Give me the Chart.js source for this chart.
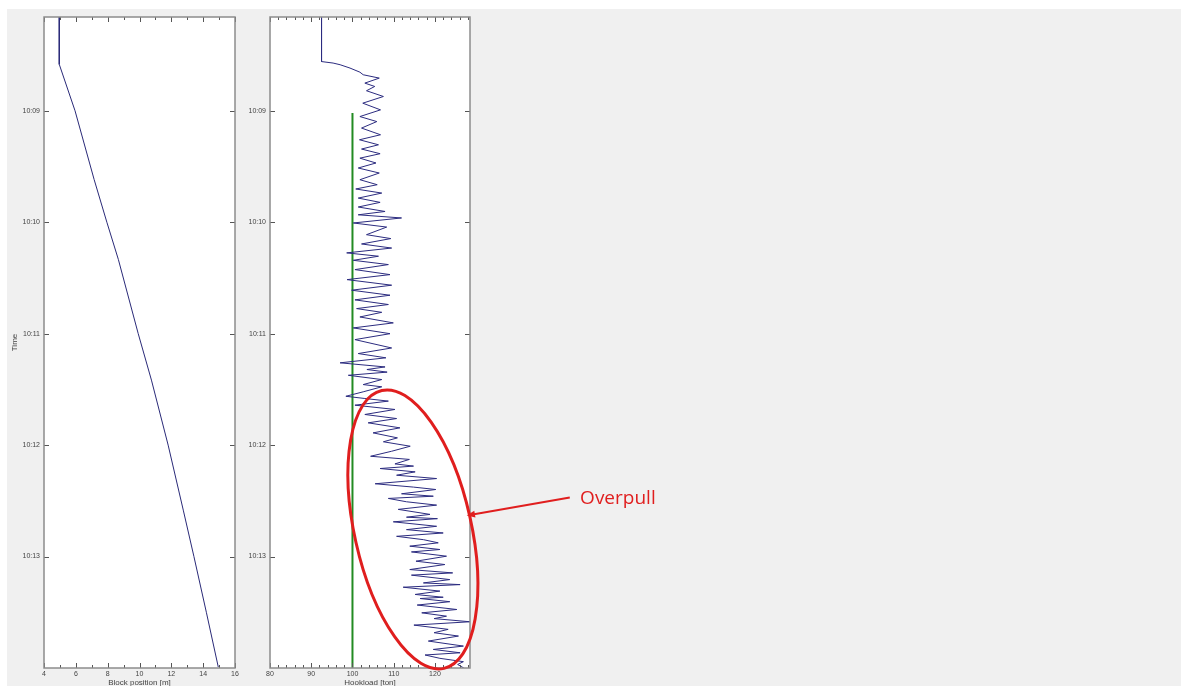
<!DOCTYPE html>
<html>
<head>
<meta charset="utf-8">
<script src="https://cdn.jsdelivr.net/npm/chart.js@4.4.1/dist/chart.umd.min.js"></script>
<style>
  html, body { margin: 0; padding: 0; background: #fff; overflow: hidden; width: 1181px; height: 686px; }
  #figure { position: absolute; left: 7px; top: 9px; width: 1174px; height: 677px; background: #f0f0f0; }
  canvas { position: absolute; top: 0; }
  #blockChart { left: 0; }
  #hookChart { left: 240px; }
</style>
</head>
<body>
<div id="figure"></div>
<canvas id="blockChart" width="250" height="692"></canvas>
<canvas id="hookChart" width="941" height="692"></canvas>
<script>
// time is in seconds after 10:08:00
const timeTicks = [60, 120, 180, 240, 300];
const timeLabels = ['10:09', '10:10', '10:11', '10:12', '10:13'];

const blockTime = [9.5, 35, 60, 97, 120, 140, 180, 205, 240, 275, 300, 330, 359.5];
const blockPos = [4.96, 4.96, 5.95, 7.15, 7.95, 8.67, 9.92, 10.75, 11.8, 12.75, 13.42, 14.2, 14.95];

const hookTime = [
  9.5, 33.5, 34.3, 35.2, 37.0, 39.2, 40.6,
  42.4, 45.1, 46.9, 49.2, 52.3, 55.9, 59.5, 63.1, 65.8, 69.3,
  72.9, 75.6, 78.3, 80.6, 83.1, 85.5, 88.1, 90.8, 93.5, 97.1,
  99.8, 102.1, 104.3, 107.0, 109.3, 111.8, 114.2, 116.0, 117.7, 120.4,
  122.6, 126.7, 128.8, 131.7, 133.9, 136.5, 138.3, 140.5, 142.8, 145.5,
  148.2, 150.9, 153.9, 156.6, 159.3, 161.8, 164.3, 166.5, 168.5, 171.0,
  174.2, 176.9, 180.0, 183.2, 187.7, 190.7, 193.0, 195.7, 197.9, 199.3,
  200.7, 202.4, 204.7, 207.4, 208.6, 211.3, 213.7, 214.9, 216.3, 218.5,
  220.8, 223.5, 225.7, 228.0, 230.7, 233.4, 236.1, 238.2, 240.6, 243.3,
  246.0, 247.7, 250.1, 251.3, 252.6, 254.4, 256.2, 258.0, 260.8, 262.6,
  263.9, 266.2, 267.5, 268.7, 270.5, 272.3, 274.6, 277.3, 278.8, 279.6,
  281.3, 283.7, 285.5, 287.3, 289.1, 290.9, 292.6, 294.4, 296.2, 297.5,
  299.8, 302.5, 304.3, 307.0, 308.8, 310.0, 312.4, 314.2, 315.1, 316.5,
  318.6, 320.4, 321.9, 322.6, 324.3, 326.1, 328.5, 330.3, 332.1, 333.4,
  335.1, 336.9, 339.2, 341.0, 342.8, 345.5, 348.2, 350.0, 351.8, 353.0,
  354.8, 356.6, 358.1, 360.0
];
const hookLoad = [
  92.5, 92.5, 95.3, 97.0, 99.4, 101.8, 102.6,
  106.5, 103.0, 105.4, 103.4, 107.5, 102.5, 106.8, 101.8, 105.9, 102.2,
  106.8, 101.7, 106.3, 102.2, 106.7, 101.8, 105.7, 101.4, 106.5, 101.8,
  106.0, 100.8, 107.1, 101.4, 106.7, 101.4, 107.9, 101.4, 111.9, 100.2,
  108.3, 103.4, 109.3, 102.2, 109.5, 98.6, 106.3, 100.2, 108.7, 100.6,
  109.1, 98.7, 109.5, 99.8, 109.1, 100.6, 108.7, 101.0, 107.1, 101.8,
  109.9, 100.2, 109.1, 100.6, 109.5, 101.4, 108.1, 97.0, 107.9, 103.5,
  108.4, 99.0, 107.1, 102.6, 107.1, 102.6, 98.4, 103.0, 108.7, 100.6,
  110.3, 103.0, 110.7, 103.8, 111.5, 105.0, 110.9, 107.5, 114.0, 109.5,
  104.4, 113.8, 110.3, 114.8, 106.7, 115.2, 110.7, 120.4, 105.5, 114.8,
  120.2, 111.9, 119.6, 108.7, 113.1, 120.4, 111.1, 118.8, 113.1, 120.6,
  109.9, 120.4, 113.1, 122.0, 110.7, 117.2, 120.8, 113.9, 121.2, 114.3,
  122.8, 115.4, 122.4, 113.9, 124.3, 114.3, 123.6, 117.2, 126.1, 112.3,
  121.2, 115.2, 122.0, 116.4, 123.6, 115.7, 125.3, 116.8, 122.8, 119.8,
  128.5, 114.9, 123.2, 119.8, 125.7, 118.4, 126.9, 119.6, 126.1, 117.6,
  121.2, 126.9, 125.5, 127.0
];

const refTime = [61.2, 360];
const refLoad = [100, 100];

Chart.defaults.font.family = '"Liberation Sans", Arial, sans-serif';
Chart.defaults.color = '#444';

const toPoints = (xs, ys) => xs.map((v, i) => ({ x: v, y: ys[i] }));

// white plot area, grey box and inward ticks on all four sides
const matlabBox = {
  id: 'matlabBox',
  beforeDraw(chart) {
    const { ctx, chartArea: a } = chart;
    ctx.save();
    ctx.fillStyle = '#fff';
    ctx.fillRect(a.left, a.top, a.right - a.left, a.bottom - a.top);
    ctx.restore();
  },
  afterDraw(chart, args, opts) {
    const { ctx, chartArea: a, scales: { x, y } } = chart;
    ctx.save();
    ctx.strokeStyle = '#555';
    ctx.lineWidth = 1;
    ctx.beginPath();
    for (let v = x.min; v <= x.max + 1e-9; v += opts.minorStep) {
      const px = Math.round(x.getPixelForValue(v)) + 0.5;
      const len = x.ticks.some(t => Math.abs(t.value - v) < 1e-9) ? 5 : 3;
      ctx.moveTo(px, a.bottom); ctx.lineTo(px, a.bottom - len);
      ctx.moveTo(px, a.top); ctx.lineTo(px, a.top + len);
    }
    y.ticks.forEach(t => {
      const py = Math.round(y.getPixelForValue(t.value)) + 0.5;
      ctx.moveTo(a.left, py); ctx.lineTo(a.left + 5, py);
      ctx.moveTo(a.right, py); ctx.lineTo(a.right - 5, py);
    });
    ctx.stroke();
    ctx.strokeStyle = '#8c8c8c';
    ctx.lineWidth = 1.5;
    ctx.strokeRect(a.left, a.top, a.right - a.left, a.bottom - a.top);
    ctx.restore();
  }
};

// red ellipse, arrow and label, placed in data units
const overpullNote = {
  id: 'overpullNote',
  afterDraw(chart, args, o) {
    const { ctx, scales: { x, y } } = chart;
    const px = p => [x.getPixelForValue(p[0]), y.getPixelForValue(p[1])];
    const [x1, y1] = px(o.ellipseTop);
    const [x2, y2] = px(o.ellipseBottom);
    const r = Math.hypot(x2 - x1, y2 - y1) / 2;
    ctx.save();
    ctx.strokeStyle = o.color;
    ctx.fillStyle = o.color;
    ctx.lineWidth = 3;
    ctx.beginPath();
    ctx.ellipse((x1 + x2) / 2, (y1 + y2) / 2, r, r * o.ratio, Math.atan2(y2 - y1, x2 - x1), 0, Math.PI * 2);
    ctx.stroke();

    const [tx, ty] = px(o.arrowFrom);
    const [hx, hy] = px(o.arrowTo);
    const ang = Math.atan2(hy - ty, hx - tx);
    ctx.lineWidth = 2;
    ctx.beginPath();
    ctx.moveTo(tx, ty);
    ctx.lineTo(hx - 6 * Math.cos(ang), hy - 6 * Math.sin(ang));
    ctx.stroke();
    ctx.beginPath();
    ctx.moveTo(hx, hy);
    ctx.lineTo(hx - 9 * Math.cos(ang - 0.4), hy - 9 * Math.sin(ang - 0.4));
    ctx.lineTo(hx - 9 * Math.cos(ang + 0.4), hy - 9 * Math.sin(ang + 0.4));
    ctx.closePath();
    ctx.fill();

    ctx.font = '19px "Open Sans", sans-serif';
    ctx.textBaseline = 'middle';
    ctx.textAlign = 'left';
    const [lx, ly] = px(o.textAt);
    ctx.fillText(o.text, lx, ly);
    ctx.restore();
  }
};

const timeAxis = (labelPadding, withTitle, width) => ({
  type: 'linear',
  reverse: true,
  min: 9.5,
  max: 360,
  afterBuildTicks: s => { s.ticks = timeTicks.map(v => ({ value: v })); },
  afterFit: s => { s.width = width; },
  ticks: {
    padding: labelPadding,
    font: { size: 7 },
    callback: (v) => timeLabels[timeTicks.indexOf(v)]
  },
  grid: { display: false, drawTicks: false },
  border: { display: false },
  title: { display: withTitle, text: 'Time', font: { size: 8 }, padding: { top: 10, bottom: 0 } }
});

const valueAxis = (min, max, step, title) => ({
  type: 'linear',
  min, max,
  afterFit: s => { s.height = 24; },
  ticks: { stepSize: step, includeBounds: false, padding: 2, font: { size: 7 } },
  grid: { display: false, drawTicks: false },
  border: { display: false },
  title: { display: true, text: title, font: { size: 8 }, padding: { top: 0, bottom: 4 } }
});

const common = {
  responsive: false,
  animation: false,
  events: [],
  plugins: { legend: { display: false }, tooltip: { enabled: false } }
};

new Chart(document.getElementById('blockChart').getContext('2d'), {
  type: 'scatter',
  data: {
    datasets: [{
      data: toPoints(blockPos, blockTime),
      showLine: true,
      borderColor: '#2a2a78',
      borderWidth: 1,
      pointRadius: 0
    }]
  },
  options: {
    ...common,
    layout: { padding: { top: 17, right: 15, left: 0, bottom: 0 } },
    scales: {
      x: valueAxis(4, 16, 2, 'Block position [m]'),
      y: timeAxis(4, true, 44)
    },
    plugins: { ...common.plugins, matlabBox: { minorStep: 1 } }
  },
  plugins: [matlabBox]
});

new Chart(document.getElementById('hookChart').getContext('2d'), {
  type: 'scatter',
  data: {
    datasets: [
      {
        data: toPoints(hookLoad, hookTime),
        showLine: true,
        borderColor: '#2c2c80',
        borderWidth: 1,
        pointRadius: 0
      },
      {
        data: toPoints(refLoad, refTime),
        showLine: true,
        borderColor: '#228b22',
        borderWidth: 2,
        pointRadius: 0
      }
    ]
  },
  options: {
    ...common,
    layout: { padding: { top: 17, right: 711, left: 0, bottom: 0 } },
    scales: {
      x: valueAxis(80, 128.5, 10, 'Hookload [ton]'),
      y: timeAxis(4, false, 30)
    },
    plugins: {
      ...common.plugins,
      matlabBox: { minorStep: 2 },
      overpullNote: {
        color: '#e01e1e',
        ellipseTop: [107.1, 210.6],
        ellipseBottom: [122.2, 360.2],
        ratio: 0.41,
        arrowFrom: [152.7, 268.2],
        arrowTo: [127.7, 277.9],
        textAt: [155.2, 268.8],
        text: 'Overpull'
      }
    }
  },
  plugins: [matlabBox, overpullNote]
});
</script>
</body>
</html>
